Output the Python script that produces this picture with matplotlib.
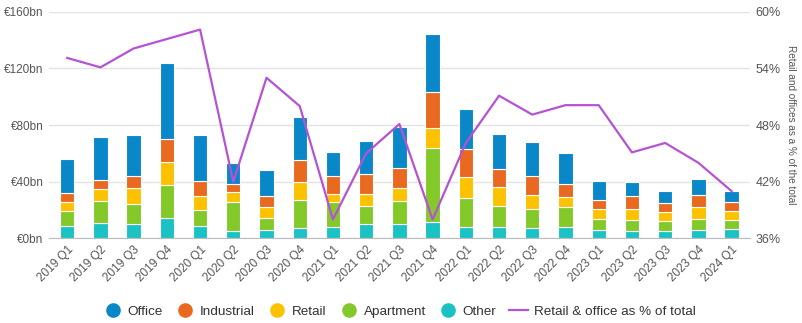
import matplotlib.pyplot as plt
import numpy as np
from matplotlib.lines import Line2D

plt.rcParams['font.family'] = ['Liberation Sans', 'DejaVu Sans']

# quarters
quarters = ['2019 Q1', '2019 Q2', '2019 Q3', '2019 Q4', '2020 Q1', '2020 Q2', '2020 Q3',
            '2020 Q4', '2021 Q1', '2021 Q2', '2021 Q3', '2021 Q4', '2022 Q1', '2022 Q2',
            '2022 Q3', '2022 Q4', '2023 Q1', '2023 Q2', '2023 Q3', '2023 Q4', '2024 Q1']

# investment volumes, EUR bn (stacked from bottom: other, apartment, retail, industrial, office)
other = [8.9, 10.6, 9.9, 14.1, 8.9, 5.2, 5.9, 7.1, 7.8, 9.9, 9.9,
         11.3, 8.2, 8.2, 7.5, 8.2, 6.1, 4.9, 4.9, 5.6, 6.8]
apartment = [10.2, 15.5, 14.1, 23.3, 10.9, 20.2, 8.6, 19.7, 17.6, 12.7, 16.2,
             52.7, 20.5, 14.8, 13.4, 13.7, 7.7, 7.8, 7.1, 8.2, 6.3]
retail = [6.3, 8.5, 11.3, 16.3, 9.9, 7.1, 7.8, 12.7, 5.9, 8.5, 9.2,
          13.7, 14.4, 13.0, 9.5, 7.5, 7.1, 8.2, 6.4, 8.1, 6.0]
industrial = [6.8, 6.8, 8.5, 16.2, 10.6, 5.6, 7.8, 16.0, 12.5, 14.5, 14.6,
              25.8, 20.2, 13.2, 13.8, 9.2, 6.4, 9.2, 6.3, 8.9, 6.7]
office = [23.8, 30.1, 29.2, 54.1, 32.7, 15.1, 18.1, 30.2, 17.1, 23.1, 28.7,
          41.0, 28.2, 24.5, 23.8, 21.6, 13.2, 9.7, 8.7, 11.1, 7.6]

# retail & office share of total, %
share = [55.1, 54.1, 56.1, 57.1, 58.1, 42.0, 53.0, 50.0, 38.0, 45.0, 48.1,
         38.0, 46.1, 51.1, 49.1, 50.1, 50.1, 45.1, 46.1, 44.0, 41.0]

series = [('Other', other, '#1ac2c4'),
          ('Apartment', apartment, '#84c92a'),
          ('Retail', retail, '#fcc200'),
          ('Industrial', industrial, '#e8691f'),
          ('Office', office, '#0a87c8')]
line_color = '#b652d4'
txt = '#555555'

fig = plt.figure(figsize=(8.02, 3.23), dpi=100)
ax = fig.add_axes([0.061, 0.262, 0.874, 0.702])
x = np.arange(len(quarters))

bottom = np.zeros(len(quarters))
for name, vals, col in series:
    ax.bar(x, vals, 0.43, bottom=bottom, color=col, edgecolor='white', linewidth=0.8, zorder=2)
    bottom += np.array(vals)

ax.set_xlim(-0.55, len(quarters) - 0.45)
ax.set_ylim(0, 160)
ax.set_yticks([0, 40, 80, 120, 160])
ax.set_yticklabels(['€0bn', '€40bn', '€80bn', '€120bn', '€160bn'])
ax.grid(axis='y', color='#e3e3e3', linewidth=1, zorder=0)
ax.set_axisbelow(True)
for s in ['top', 'right', 'left']:
    ax.spines[s].set_visible(False)
ax.spines['bottom'].set_color('#bbbbbb')
ax.tick_params(axis='y', length=0, labelsize=8.5, colors=txt, pad=4)
ax.tick_params(axis='x', length=0, labelsize=8.5, colors=txt, pad=4)
ax.set_xticks(x)
ax.set_xticklabels(quarters, rotation=45, ha='right', rotation_mode='anchor')

ax2 = ax.twinx()
ax2.plot(x, share, color=line_color, linewidth=1.6, zorder=5)
ax2.set_ylim(36, 60)
ax2.set_yticks([36, 42, 48, 54, 60])
ax2.set_yticklabels(['36%', '42%', '48%', '54%', '60%'])
for s in ax2.spines.values():
    s.set_visible(False)
ax2.tick_params(axis='y', length=0, labelsize=9, colors=txt, pad=4)
ax2.set_ylabel('Retail and offices as a % of the total', rotation=270, fontsize=7.2,
               color=txt, labelpad=11)

handles = []
for name, vals, col in reversed(series):
    handles.append(Line2D([], [], marker='o', linestyle='none', markersize=9.5,
                          markerfacecolor=col, markeredgecolor=col, label=name))
handles.append(Line2D([], [], color=line_color, linewidth=1.6, label='Retail & office as % of total'))
fig.legend(handles=handles, loc='center', bbox_to_anchor=(0.498, 0.035), ncol=6, frameon=False,
           fontsize=9.7, labelcolor='#333333', columnspacing=0.95, handletextpad=0.4,
           handlelength=1.4)

fig.savefig('out.png', dpi=100)
